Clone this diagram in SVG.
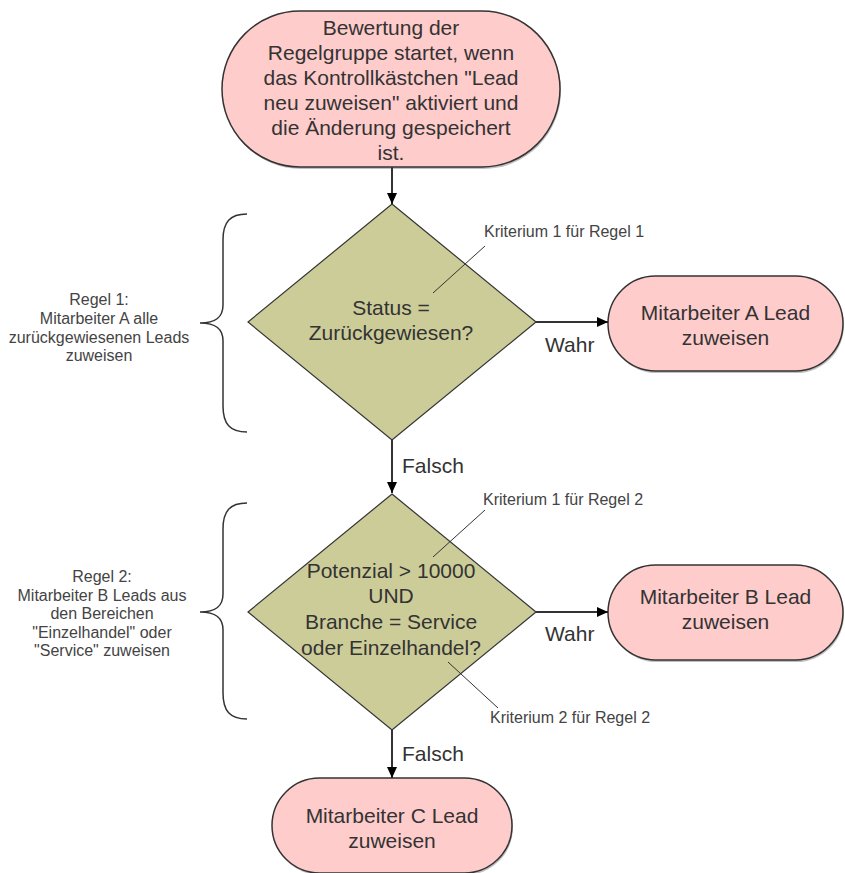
<svg xmlns="http://www.w3.org/2000/svg" width="845" height="873" viewBox="0 0 845 873">
<style>
.term{fill:#ffcccc;stroke:#333;stroke-width:1.5}
.shadow{fill:#8a8a8a;opacity:0.55}
.dec{fill:#cccc99;stroke:#333;stroke-width:1.2}
.t{font-family:"Liberation Sans",Arial,sans-serif;font-size:21px;fill:#333;text-anchor:middle}
.lbl{font-family:"Liberation Sans",Arial,sans-serif;font-size:21px;fill:#333}
.note{font-family:"Liberation Sans",Arial,sans-serif;font-size:16px;fill:#444}
.mid{text-anchor:middle}
.conn{stroke:#333;stroke-width:2;fill:none}
.lead{stroke:#333;stroke-width:1;fill:none}
.brace{stroke:#333;stroke-width:1.5;fill:none}
</style>
<defs>
<marker id="arr" markerWidth="11" markerHeight="10" refX="11" refY="5" orient="auto" markerUnits="userSpaceOnUse">
<path d="M0,0 L11,5 L0,10 z" fill="#000"/>
</marker>
</defs>
<rect width="845" height="873" fill="#fff"/>

<g id="start">
<rect class="shadow" x="223" y="13" width="338" height="156" rx="78" ry="78"/>
<rect class="term" x="222" y="11" width="338" height="156" rx="78" ry="78"/>
<text class="t" x="391" y="35">Bewertung der</text>
<text class="t" x="391" y="60">Regelgruppe startet, wenn</text>
<text class="t" x="391" y="85">das Kontrollkästchen "Lead</text>
<text class="t" x="391" y="110">neu zuweisen" aktiviert und</text>
<text class="t" x="391" y="135">die Änderung gespeichert</text>
<text class="t" x="391" y="160">ist.</text>
</g>

<g id="decision1">
<polygon class="dec" points="392,204 536,322 392,440 248,322"/>
<text class="t" x="391" y="315">Status =</text>
<text class="t" x="391" y="340">Zurückgewiesen?</text>
</g>

<g id="assignA">
<rect class="shadow" x="609" y="278" width="235" height="95" rx="47.5" ry="47.5"/>
<rect class="term" x="608" y="276" width="235" height="95" rx="47.5" ry="47.5"/>
<text class="t" x="725.5" y="320">Mitarbeiter A Lead</text>
<text class="t" x="725.5" y="345">zuweisen</text>
</g>

<g id="decision2">
<polygon class="dec" points="392,494 536,612 392,730 248,612"/>
<text class="t" x="391" y="578">Potenzial &gt; 10000</text>
<text class="t" x="391" y="603">UND</text>
<text class="t" x="391" y="629">Branche = Service</text>
<text class="t" x="391" y="655">oder Einzelhandel?</text>
</g>

<g id="assignB">
<rect class="shadow" x="609" y="567" width="235" height="95" rx="47.5" ry="47.5"/>
<rect class="term" x="608" y="565" width="235" height="95" rx="47.5" ry="47.5"/>
<text class="t" x="725.5" y="604">Mitarbeiter B Lead</text>
<text class="t" x="725.5" y="629">zuweisen</text>
</g>

<g id="assignC">
<rect class="shadow" x="273" y="780" width="240" height="95" rx="47.5" ry="47.5"/>
<rect class="term" x="272" y="778" width="240" height="95" rx="47.5" ry="47.5"/>
<text class="t" x="392" y="823">Mitarbeiter C Lead</text>
<text class="t" x="392" y="848">zuweisen</text>
</g>

<g id="rule1">
<path class="brace" d="M247,214 C230,214 223,222 223,240 L223,305 C223,318 215,323 200,323 C215,323 223,328 223,341 L223,406 C223,424 230,432 247,432"/>
<text class="note mid" x="99" y="305">Regel 1:</text>
<text class="note mid" x="99" y="324">Mitarbeiter A alle</text>
<text class="note mid" x="99" y="343">zurückgewiesenen Leads</text>
<text class="note mid" x="99" y="361">zuweisen</text>
</g>

<g id="rule2">
<path class="brace" d="M247,503 C230,503 223,511 223,529 L223,594 C223,607 215,612 200,612 C215,612 223,617 223,630 L223,693 C223,711 230,719 247,719"/>
<text class="note mid" x="102" y="582">Regel 2:</text>
<text class="note mid" x="102" y="601">Mitarbeiter B Leads aus</text>
<text class="note mid" x="102" y="619">den Bereichen</text>
<text class="note mid" x="102" y="638">"Einzelhandel" oder</text>
<text class="note mid" x="102" y="656">"Service" zuweisen</text>
</g>

<g id="criteria">
<text class="note" x="484" y="237">Kriterium 1 für Regel 1</text>
<line class="lead" x1="485" y1="246" x2="433" y2="293"/>
<text class="note" x="483" y="505">Kriterium 1 für Regel 2</text>
<line class="lead" x1="485" y1="510" x2="433" y2="557"/>
<text class="note" x="490" y="723">Kriterium 2 für Regel 2</text>
<line class="lead" x1="448" y1="662" x2="498" y2="708"/>
</g>

<g id="connectors">
<line class="conn" x1="392" y1="167" x2="392" y2="204" marker-end="url(#arr)"/>
<line class="conn" x1="536" y1="322" x2="608" y2="322" marker-end="url(#arr)"/>
<line class="conn" x1="392" y1="440" x2="392" y2="493" marker-end="url(#arr)"/>
<line class="conn" x1="536" y1="612" x2="608" y2="612" marker-end="url(#arr)"/>
<line class="conn" x1="392" y1="730" x2="392" y2="778" marker-end="url(#arr)"/>
<text class="lbl" x="545" y="352">Wahr</text>
<text class="lbl" x="402" y="473">Falsch</text>
<text class="lbl" x="545" y="641">Wahr</text>
<text class="lbl" x="402" y="761">Falsch</text>
</g>
</svg>
